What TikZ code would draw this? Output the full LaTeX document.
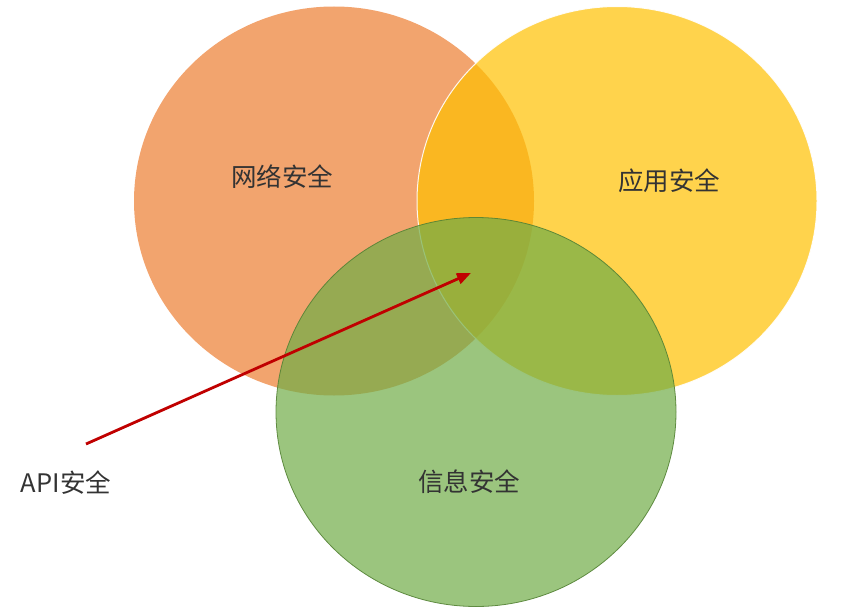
\documentclass[tikz,border=0pt]{standalone}
\usepackage{fontspec}
\setmainfont{Noto Sans CJK SC}
\usetikzlibrary{shapes.geometric, arrows.meta}
\definecolor{naranja}{RGB}{237,125,49}
\definecolor{amarillo}{RGB}{255,192,0}
\definecolor{verde}{RGB}{112,173,71}
\definecolor{verdeosc}{RGB}{84,130,53}
\definecolor{rojo}{RGB}{192,0,0}
\tikzstyle{conjunto}=[ellipse, minimum width=400pt, minimum height=389pt,
inner sep=0pt, fill opacity=0.7, draw opacity=0.9]
\tikzstyle{etiqueta}=[font=\fontsize{25.5}{30}\selectfont, text=black!80]
\tikzstyle{flecha}=[draw=rojo, line width=2.8pt, -{Triangle[length=14pt, width=11pt]}]

\begin{document}
\begin{tikzpicture}[x=1pt, y=-1pt]
		\useasboundingbox (0,0) rectangle (858,615);
		% circulos
		\node[conjunto, fill=naranja](red) at (334,201) {};
		\node[conjunto, fill=amarillo, draw=white, line width=1pt](app) at (617,201) {};
		\node[conjunto, fill=verde, draw=verdeosc, line width=0.8pt](info) at (476,412) {};
		% textos
		\node[etiqueta](tred) at (282,177) {网络安全};
		\node[etiqueta](tapp) at (669,181) {应用安全};
		\node[etiqueta](tinfo) at (469,482) {信息安全};
		\node[etiqueta](api) at (66,483) {API安全};
		% flecha
		\coordinate (inicio) at (86,444);
		\coordinate (centro) at (471,273);
		\draw[flecha] (inicio) -- (centro);
	\end{tikzpicture}
\end{document}
